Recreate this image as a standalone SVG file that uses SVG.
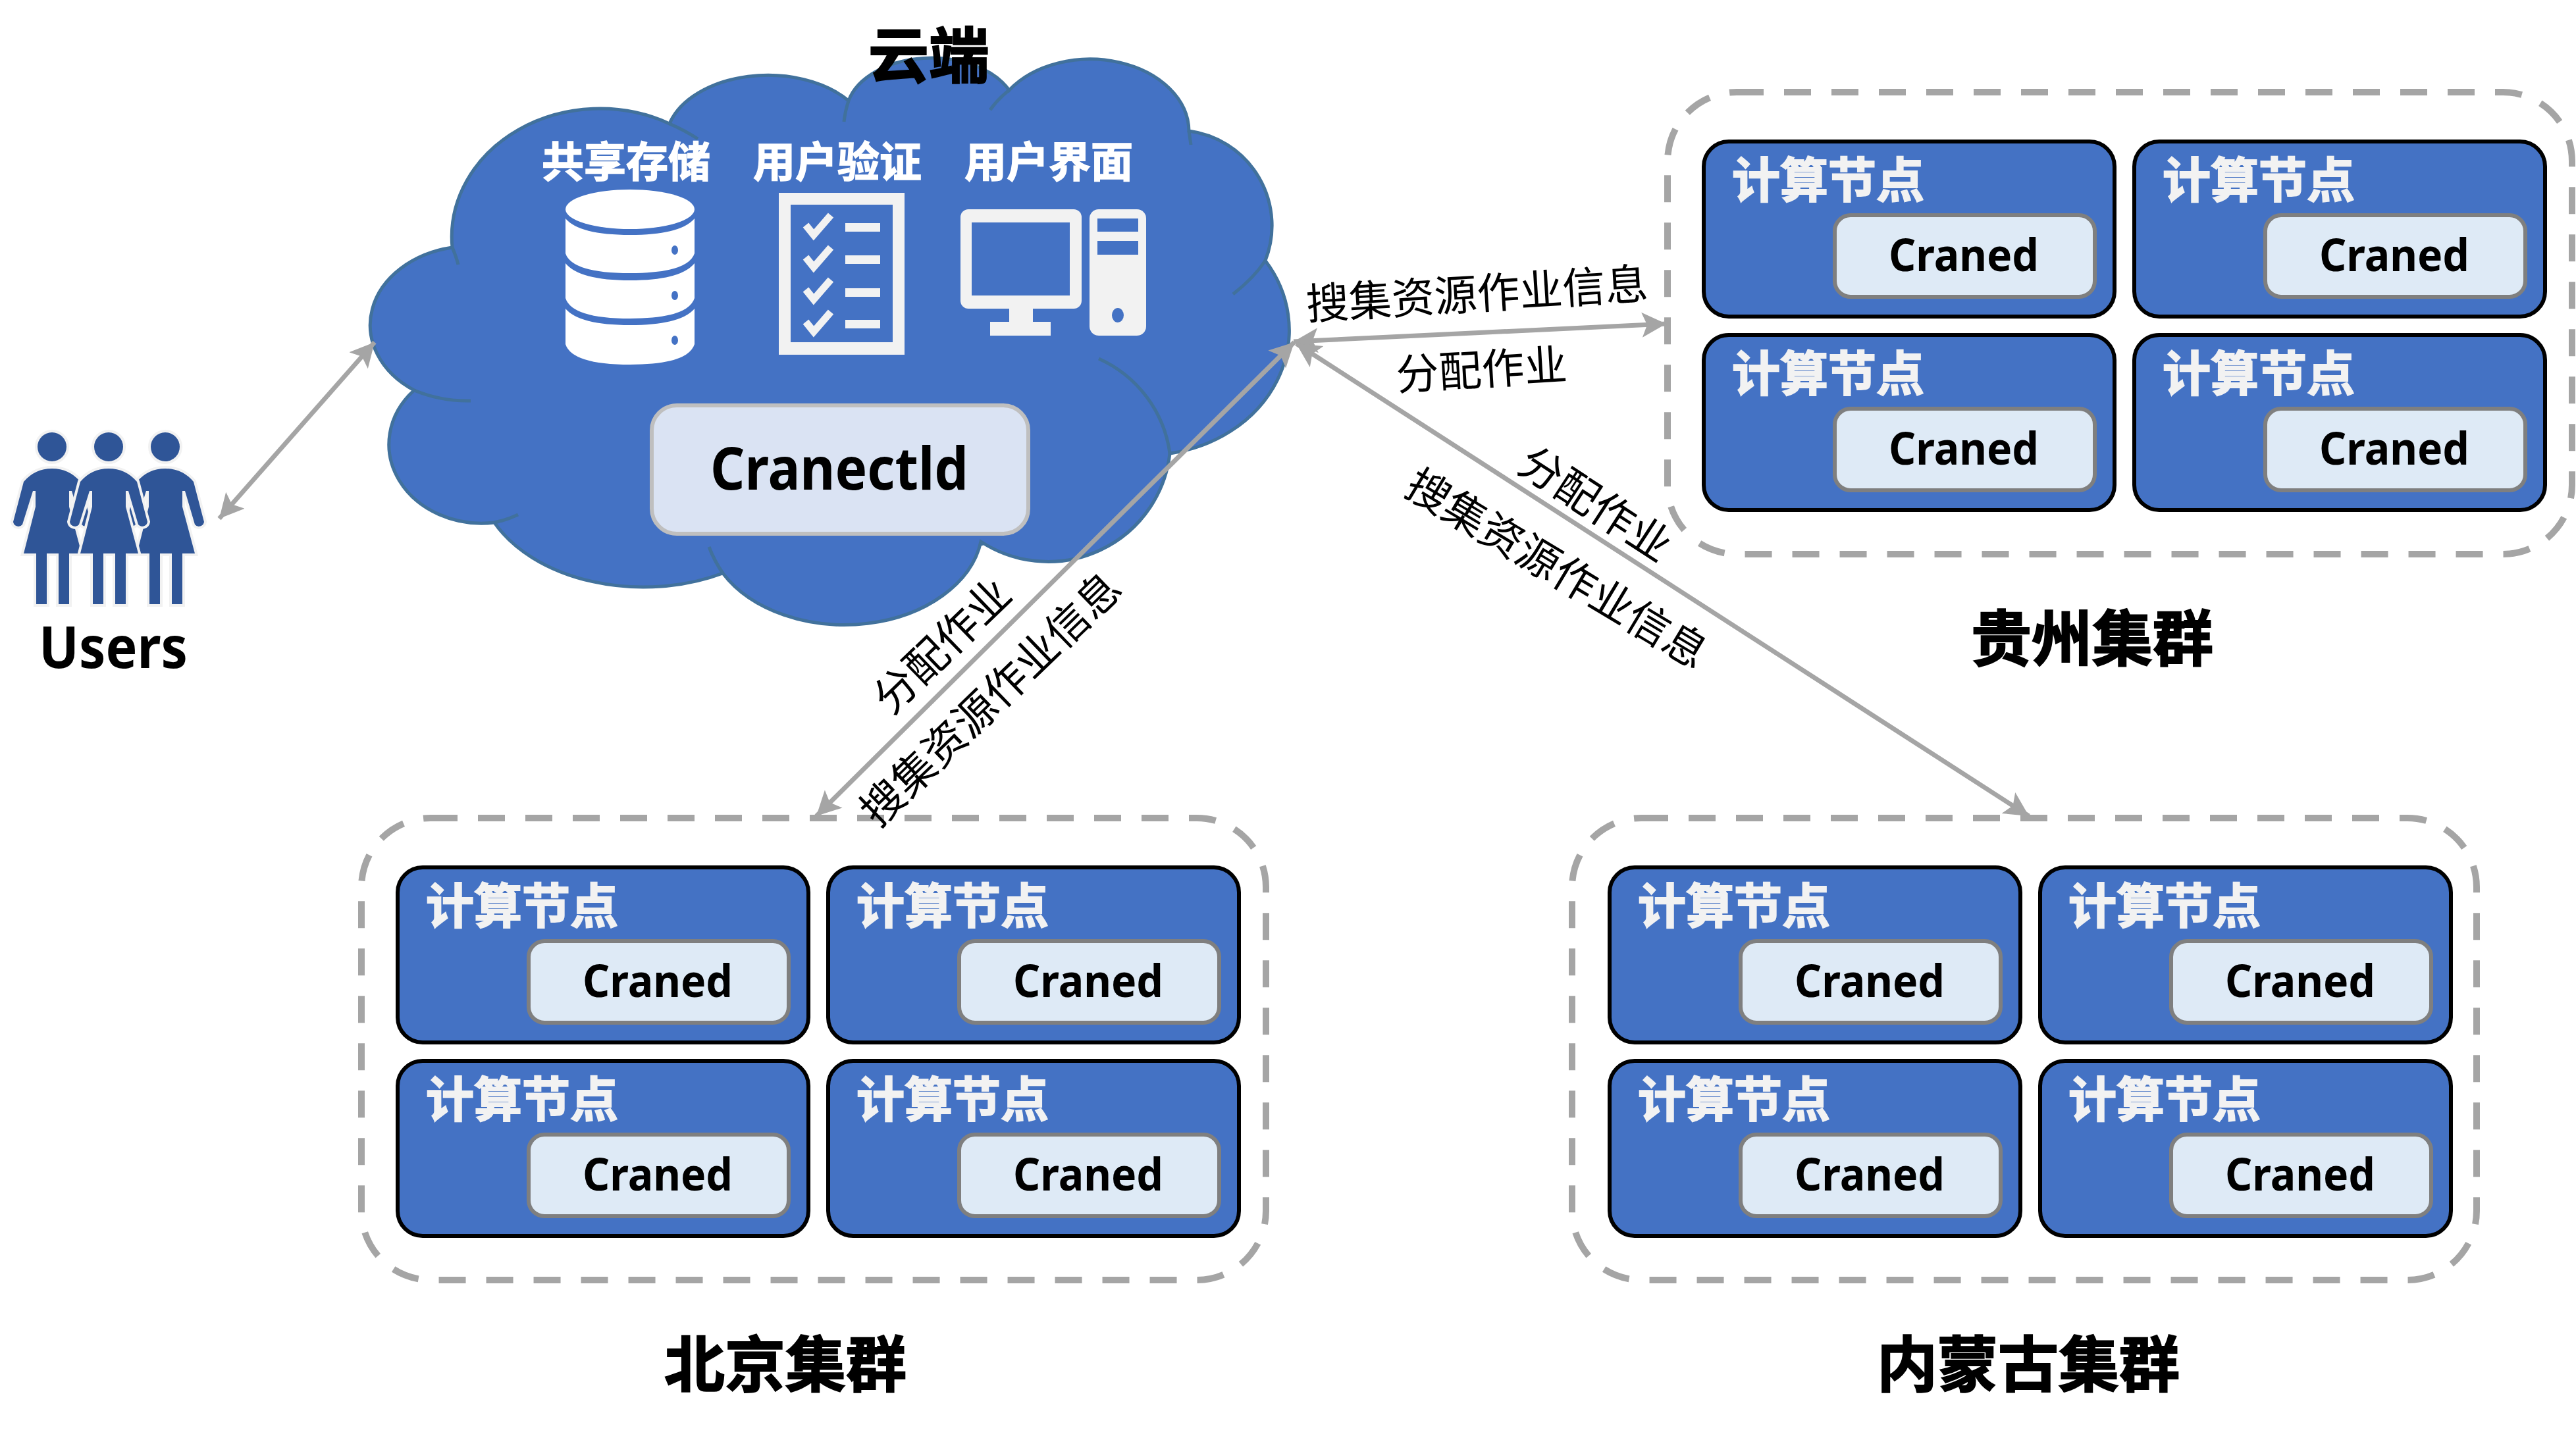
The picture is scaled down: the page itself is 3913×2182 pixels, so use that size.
<svg xmlns="http://www.w3.org/2000/svg" width="3913" height="2182" viewBox="0 0 3913 2182">
<style>
text{font-family:"Noto Sans CJK SC","Noto Sans",sans-serif}
.latin{font-family:"Noto Sans","Open Sans",sans-serif;font-weight:700;fill:#000}
.node{fill:#4472C4;stroke:#000;stroke-width:6}
.inner{fill:#DEEAF6;stroke:#7F7F7F;stroke-width:6}
.nl{font-size:73px;font-weight:700;fill:#F2F2F2;stroke:#F2F2F2;stroke-width:2}
.cr{font-size:69px;text-anchor:middle}
.dash{fill:none;stroke:#A5A5A5;stroke-width:10;stroke-dasharray:41 31}
.title{font-size:92px;font-weight:700;fill:#000;text-anchor:middle;stroke:#000;stroke-width:2}
.edge{font-size:65px;fill:#000;text-anchor:middle}
.svc{font-size:64px;font-weight:700;fill:#fff;text-anchor:middle;stroke:#fff;stroke-width:1.5}
.cl{fill:none;stroke:#41719C;stroke-width:5}
.conn{fill:none;stroke:#A5A5A5;stroke-width:7;marker-start:url(#ah);marker-end:url(#ah)}
.ic{fill:#F2F2F2}
.ib{fill:#4472C4}
.wh{fill:#fff}
.chk{fill:none;stroke:#F2F2F2;stroke-width:11}
</style>
<defs>
<marker id="ah" markerUnits="userSpaceOnUse" markerWidth="44" markerHeight="40" refX="37" refY="20" orient="auto-start-reverse">
<path d="M37,20 L0,1 L8,20 L0,39 Z" fill="#A5A5A5"/>
</marker>
<path id="woman" d="M0,712 Q-26,712 -43,732 L-59,793 A8,8 0 0 0 -45,797 L-29,746 L-25,746 L-25,770 L-43,841 L-24,841 L-24,918 L-8,918 L-8,841 L10,841 L10,918 L26,918 L26,841 L45,841 L26,770 L26,746 L30,746 L45,797 A8,8 0 0 0 59,793 L43,732 Q26,712 0,712 Z" fill="#2F5597" stroke="#F2F2F2" stroke-width="8" paint-order="stroke"/>
</defs>

<g id="cloud">
<path d="M687,376 A225,195 0 0 1 1017,188 A155,100 0 0 1 1289,153 A130,85 0 0 1 1533,137 A150,110 0 0 1 1806,199 A145,145 0 0 1 1922,396 A216,190 0 0 1 1777,689 A186,185 0 0 1 1490,823 A210,150 0 0 1 1098,871 A250,170 0 0 1 751,794 A141,120 0 0 1 629,593 A153,120 0 0 1 687,376 Z" fill="#4472C4" stroke="#41719C" stroke-width="5"/>
<path class="cl" d="M696,402 Q693,390 687,376 M1017,188 Q1040,198 1060,211 M1282,185 Q1284,168 1289,153 M1504,167 Q1516,150 1533,137 M1809,220 L1806,199 M1873,447 Q1905,422 1922,396 M1669,545 A186,185 0 0 1 1777,689 M1492,829 L1490,823 M1077,831 Q1085,852 1098,871 M787,782 Q770,790 751,794 M715,609 Q670,610 629,593"/>
</g>

<g id="cloud-title"><text class="title" x="1411" y="118">云端</text></g>

<g id="shared-storage">
<text class="svc" x="951" y="269">共享存储</text>
<path class="wh" d="M859,318 A98,30 0 0 1 1055,318 A98,30 0 0 1 859,318 Z"/>
<path class="wh" d="M859,332 Q880,357 957,357 Q1034,357 1055,332 L1055,385 Q1045,415 957,415 Q869,415 859,385 Z"/>
<path class="wh" d="M859,400 Q880,426 957,426 Q1034,426 1055,400 L1055,453 Q1045,484 957,484 Q869,484 859,453 Z"/>
<path class="wh" d="M859,469 Q880,494 957,494 Q1034,494 1055,469 L1055,523 Q1045,554 957,554 Q869,554 859,523 Z"/>
<ellipse class="ib" cx="1025" cy="380" rx="5" ry="7"/><ellipse class="ib" cx="1025" cy="449" rx="5" ry="7"/><ellipse class="ib" cx="1025" cy="517" rx="5" ry="7"/>
</g>

<g id="user-auth">
<text class="svc" x="1272" y="269">用户验证</text>
<rect class="ic" x="1183" y="293" width="191" height="246"/>
<rect class="ib" x="1201" y="311" width="155" height="209"/>
<path class="chk" d="M1224,342 L1236,357 L1262,327 M1224,391 L1236,406 L1262,376 M1224,440 L1236,455 L1262,425 M1224,489 L1236,504 L1262,474"/>
<rect class="ic" x="1284" y="339" width="53" height="13"/><rect class="ic" x="1284" y="388" width="53" height="13"/><rect class="ic" x="1284" y="438" width="53" height="13"/><rect class="ic" x="1284" y="486" width="53" height="13"/>
</g>

<g id="user-ui">
<text class="svc" x="1593" y="269">用户界面</text>
<rect class="ic" x="1459" y="318" width="184" height="151" rx="12"/>
<rect class="ib" x="1476" y="338" width="149" height="111"/>
<rect class="ic" x="1533" y="469" width="36" height="22"/>
<rect class="ic" x="1504" y="489" width="92" height="21"/>
<rect class="ic" x="1655" y="318" width="86" height="192" rx="14"/>
<rect class="ib" x="1667" y="332" width="62" height="20"/><rect class="ib" x="1667" y="366" width="62" height="21"/>
<ellipse class="ib" cx="1698" cy="479" rx="9" ry="11"/>
</g>

<g id="cranectld">
<rect x="990" y="616" width="572" height="195" rx="38" fill="#DAE3F3" stroke="#BFBFBF" stroke-width="6"/>
<text class="latin" style="font-size:90px" x="1275" y="744" text-anchor="middle" textLength="392" lengthAdjust="spacingAndGlyphs">Cranectld</text>
</g>

<g id="users">
<circle cx="79" cy="679" r="22" fill="#2F5597" stroke="#F2F2F2" stroke-width="8" paint-order="stroke"/>
<circle cx="251" cy="679" r="22" fill="#2F5597" stroke="#F2F2F2" stroke-width="8" paint-order="stroke"/>
<circle cx="165" cy="679" r="22" fill="#2F5597" stroke="#F2F2F2" stroke-width="8" paint-order="stroke"/>
<use href="#woman" x="79"/><use href="#woman" x="251"/><use href="#woman" x="165"/>
<text class="latin" style="font-size:88px" x="172" y="1015" text-anchor="middle" textLength="226" lengthAdjust="spacingAndGlyphs">Users</text>
</g>

<g id="cluster-guizhou">
<rect class="dash" x="2533" y="140" width="1374" height="702" rx="105"/>
<text class="title" x="3178" y="1004">贵州集群</text>
<g id="gz-node-1" transform="translate(2588,215)"><rect class="node" width="624" height="266" rx="38"/><text class="nl" x="43" y="85">计算节点</text><rect class="inner" x="199" y="112" width="395" height="124" rx="24"/><text class="latin cr" x="395" y="197" textLength="228" lengthAdjust="spacingAndGlyphs">Craned</text></g>
<g id="gz-node-2" transform="translate(3242,215)"><rect class="node" width="624" height="266" rx="38"/><text class="nl" x="43" y="85">计算节点</text><rect class="inner" x="199" y="112" width="395" height="124" rx="24"/><text class="latin cr" x="395" y="197" textLength="228" lengthAdjust="spacingAndGlyphs">Craned</text></g>
<g id="gz-node-3" transform="translate(2588,509)"><rect class="node" width="624" height="266" rx="38"/><text class="nl" x="43" y="85">计算节点</text><rect class="inner" x="199" y="112" width="395" height="124" rx="24"/><text class="latin cr" x="395" y="197" textLength="228" lengthAdjust="spacingAndGlyphs">Craned</text></g>
<g id="gz-node-4" transform="translate(3242,509)"><rect class="node" width="624" height="266" rx="38"/><text class="nl" x="43" y="85">计算节点</text><rect class="inner" x="199" y="112" width="395" height="124" rx="24"/><text class="latin cr" x="395" y="197" textLength="228" lengthAdjust="spacingAndGlyphs">Craned</text></g>
</g>

<g id="cluster-beijing">
<rect class="dash" x="549" y="1243" width="1374" height="702" rx="105"/>
<text class="title" x="1193" y="2107">北京集群</text>
<g id="bj-node-1" transform="translate(604,1318)"><rect class="node" width="624" height="266" rx="38"/><text class="nl" x="43" y="85">计算节点</text><rect class="inner" x="199" y="112" width="395" height="124" rx="24"/><text class="latin cr" x="395" y="197" textLength="228" lengthAdjust="spacingAndGlyphs">Craned</text></g>
<g id="bj-node-2" transform="translate(1258,1318)"><rect class="node" width="624" height="266" rx="38"/><text class="nl" x="43" y="85">计算节点</text><rect class="inner" x="199" y="112" width="395" height="124" rx="24"/><text class="latin cr" x="395" y="197" textLength="228" lengthAdjust="spacingAndGlyphs">Craned</text></g>
<g id="bj-node-3" transform="translate(604,1612)"><rect class="node" width="624" height="266" rx="38"/><text class="nl" x="43" y="85">计算节点</text><rect class="inner" x="199" y="112" width="395" height="124" rx="24"/><text class="latin cr" x="395" y="197" textLength="228" lengthAdjust="spacingAndGlyphs">Craned</text></g>
<g id="bj-node-4" transform="translate(1258,1612)"><rect class="node" width="624" height="266" rx="38"/><text class="nl" x="43" y="85">计算节点</text><rect class="inner" x="199" y="112" width="395" height="124" rx="24"/><text class="latin cr" x="395" y="197" textLength="228" lengthAdjust="spacingAndGlyphs">Craned</text></g>
</g>

<g id="cluster-neimenggu">
<rect class="dash" x="2388" y="1243" width="1374" height="702" rx="105"/>
<text class="title" x="3081" y="2107">内蒙古集群</text>
<g id="nm-node-1" transform="translate(2445,1318)"><rect class="node" width="624" height="266" rx="38"/><text class="nl" x="43" y="85">计算节点</text><rect class="inner" x="199" y="112" width="395" height="124" rx="24"/><text class="latin cr" x="395" y="197" textLength="228" lengthAdjust="spacingAndGlyphs">Craned</text></g>
<g id="nm-node-2" transform="translate(3099,1318)"><rect class="node" width="624" height="266" rx="38"/><text class="nl" x="43" y="85">计算节点</text><rect class="inner" x="199" y="112" width="395" height="124" rx="24"/><text class="latin cr" x="395" y="197" textLength="228" lengthAdjust="spacingAndGlyphs">Craned</text></g>
<g id="nm-node-3" transform="translate(2445,1612)"><rect class="node" width="624" height="266" rx="38"/><text class="nl" x="43" y="85">计算节点</text><rect class="inner" x="199" y="112" width="395" height="124" rx="24"/><text class="latin cr" x="395" y="197" textLength="228" lengthAdjust="spacingAndGlyphs">Craned</text></g>
<g id="nm-node-4" transform="translate(3099,1612)"><rect class="node" width="624" height="266" rx="38"/><text class="nl" x="43" y="85">计算节点</text><rect class="inner" x="199" y="112" width="395" height="124" rx="24"/><text class="latin cr" x="395" y="197" textLength="228" lengthAdjust="spacingAndGlyphs">Craned</text></g>
</g>

<g id="connectors">
<line class="conn" x1="333" y1="788" x2="569" y2="520"/>
<line class="conn" x1="1965" y1="519" x2="2531" y2="492"/>
<line class="conn" x1="1240" y1="1240" x2="1966" y2="520"/>
<line class="conn" x1="1969" y1="522" x2="3082" y2="1240"/>
</g>

<g id="edge-labels">
<text class="edge" transform="translate(2245,470) rotate(-3.5)">搜集资源作业信息</text>
<text class="edge" transform="translate(2252,585) rotate(-3.5)">分配作业</text>
<text class="edge" transform="translate(2411,785) rotate(33)">分配作业</text>
<text class="edge" transform="translate(2353,884) rotate(31)">搜集资源作业信息</text>
<text class="edge" transform="translate(1447,998) rotate(-44)">分配作业</text>
<text class="edge" transform="translate(1521,1079) rotate(-44)">搜集资源作业信息</text>
</g>
</svg>
